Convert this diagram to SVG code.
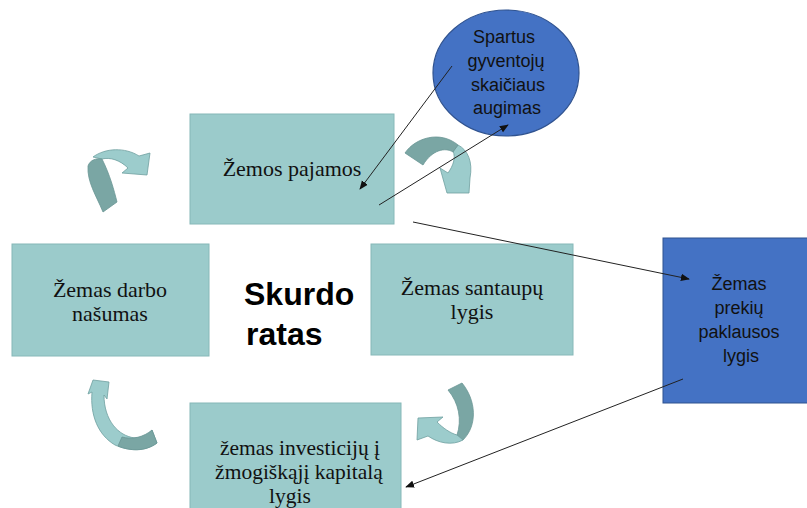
<svg xmlns="http://www.w3.org/2000/svg" width="807" height="508" viewBox="0 0 807 508">
<defs>
<style>
.box{fill:#9bcbcb;stroke:#86b8b8;stroke-width:1}
.bbox{fill:#4472c4;stroke:#2f528f;stroke-width:1}
.st{font-family:"Liberation Serif","Times New Roman",serif;font-size:22px;fill:#111;text-anchor:middle}
.sn{font-family:"Liberation Sans",Arial,sans-serif;font-size:18px;fill:#111;text-anchor:middle}
.lt{fill:#9ccccc;stroke:#6f9f9f;stroke-width:0.8}
.dk{fill:#7aa6a4;stroke:#6a9594;stroke-width:0.8}
.ln{stroke:#222;stroke-width:1;fill:none;marker-end:url(#ah)}
</style>
<marker id="ah" viewBox="0 0 10 10" refX="9" refY="5" markerWidth="9" markerHeight="9" markerUnits="userSpaceOnUse" orient="auto">
<path d="M0,1 L10,5 L0,9 Z" fill="#111"/>
</marker>
</defs>
<rect width="807" height="508" fill="#fff"/>

<g id="node-zemos-pajamos">
<rect class="box" x="190" y="114" width="204" height="110"/>
<text class="st" x="292" y="176">Žemos pajamos</text>
</g>
<g id="node-darbo-nasumas">
<rect class="box" x="12" y="244" width="197" height="112"/>
<text class="st" x="110" y="297">Žemas darbo</text>
<text class="st" x="110" y="321">našumas</text>
</g>
<g id="node-santaupu">
<rect class="box" x="371" y="244" width="202" height="111"/>
<text class="st" x="472" y="295">Žemas santaupų</text>
<text class="st" x="472" y="319">lygis</text>
</g>
<g id="node-investiciju">
<rect class="box" x="190" y="403" width="211" height="112"/>
<text class="st" x="300" y="455" style="font-size:21.5px">žemas investicijų į</text>
<text class="st" x="299" y="479" style="font-size:21.5px">žmogiškąjį kapitalą</text>
<text class="st" x="290" y="503" style="font-size:21.5px">lygis</text>
</g>
<g id="node-paklausos">
<rect class="bbox" x="663" y="238" width="150" height="165"/>
<text class="sn" x="739" y="290">Žemas</text>
<text class="sn" x="739" y="314">prekių</text>
<text class="sn" x="739" y="338">paklausos</text>
<text class="sn" x="741" y="362">lygis</text>
</g>
<g id="node-spartus">
<ellipse cx="506" cy="73" rx="73" ry="63" fill="#4472c4" stroke="#2f528f" stroke-width="1.2"/>
<text class="sn" x="504" y="43">Spartus</text>
<text class="sn" x="506" y="67">gyventojų</text>
<text class="sn" x="508" y="91">skaičiaus</text>
<text class="sn" x="507" y="114">augimas</text>
</g>
<g id="title">
<text x="244" y="305" font-family="'Liberation Sans',Arial,sans-serif" font-weight="bold" font-size="32" fill="#000">Skurdo</text>
<text x="246" y="345" font-family="'Liberation Sans',Arial,sans-serif" font-weight="bold" font-size="32" fill="#000">ratas</text>
</g>

<g id="curved-arrows">
<g id="ca-top-left">
<path class="lt" d="M93,157 C105,148 125,147 139,156 L150,153 L147,175 L122,173 L128,168 C120,160 110,157 102,159 Z"/>
<path class="dk" d="M88,166 C90,160 96,158 102,159 C110,175 114,190 117,202 L103,212 C96,195 87,182 88,166 Z"/>
</g>
<g id="ca-top-right">
<path class="lt" d="M458,145 C468,150 473,162 470,178 L469,193 L447,193 L440,168 L448,173 C453,166 456,158 453,151 Z"/>
<path class="dk" d="M405,153 C415,138 440,130 458,145 L453,152 C445,147 432,150 423,165 Z"/>
</g>
<g id="ca-bottom-right">
<path class="dk" d="M448,390 L462,383 C476,400 478,425 463,440 L457,435 C462,420 459,403 448,390 Z"/>
<path class="lt" d="M463,440 C452,446 438,443 428,436 L417,440 L418,418 L443,417 L437,422 C443,428 450,433 457,435 Z"/>
</g>
<g id="ca-bottom-left">
<path class="lt" d="M93,380 L109,382 L107,399 L104,395 C104,420 118,436 135,438 C143,438 149,434 152,430 L157,443 C145,452 128,451 115,445 C98,435 90,415 92,392 L88,394 Z"/>
<path class="dk" d="M122,437 C132,440 144,437 152,430 L157,443 C145,452 130,451 118,446 Z"/>
</g>
</g>

<g id="connectors">
<line class="ln" x1="452" y1="66" x2="360" y2="189"/>
<line class="ln" x1="379" y1="205" x2="508" y2="125"/>
<line class="ln" x1="413" y1="222" x2="689" y2="279"/>
<line class="ln" x1="683" y1="379" x2="406" y2="487"/>
</g>
</svg>
